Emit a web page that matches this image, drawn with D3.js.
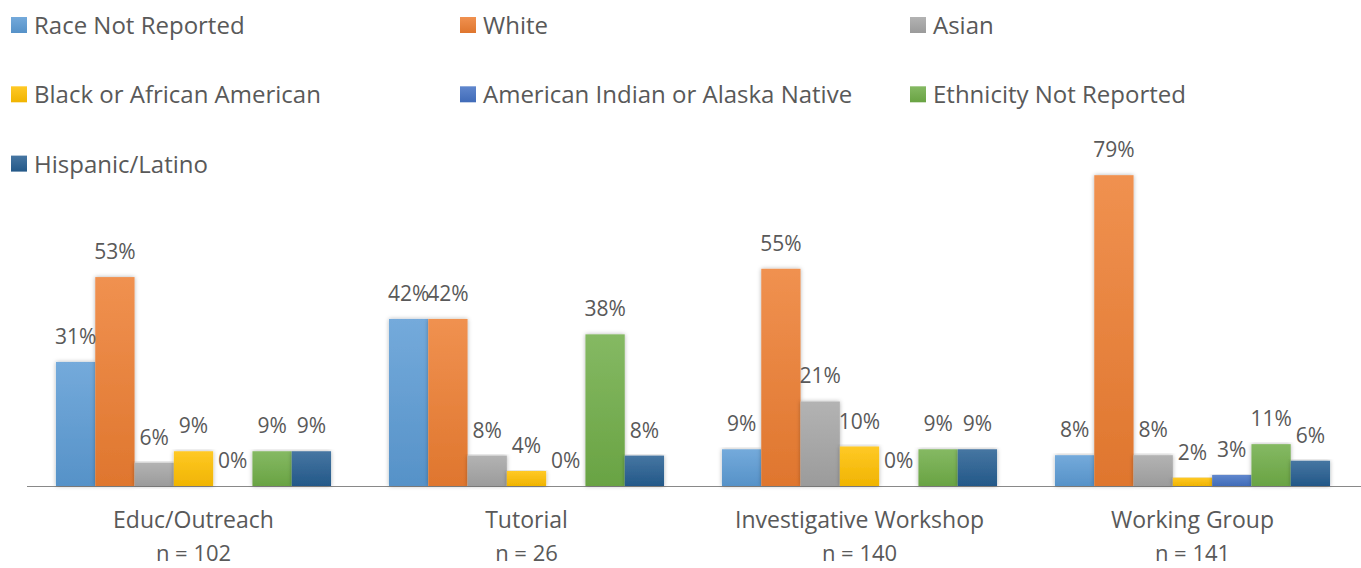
<!DOCTYPE html>
<html>
<head>
<meta charset="utf-8">
<script src="https://cdn.jsdelivr.net/npm/d3@7"></script>
<style>
  body { margin: 0; background: #fff; }
  text { font-family: "Open Sans", Lato, sans-serif; fill: #595959; }
</style>
</head>
<body>
<svg id="chart" width="1361" height="568"></svg>
<script>
// chart data
var categories = ['Educ/Outreach', 'Tutorial', 'Investigative Workshop', 'Working Group'];
var sampleSizes = ['n = 102', 'n = 26', 'n = 140', 'n = 141'];
var seriesNames = ['Race Not Reported', 'White', 'Asian', 'Black or African American',
  'American Indian or Alaska Native', 'Ethnicity Not Reported', 'Hispanic/Latino'];
var seriesColors = ['#5B9BD5', '#ED7D31', '#A5A5A5', '#FFC000', '#4472C4', '#70AD47', '#255E91'];

// percent values, one array per series (same order as categories)
var raceNotReported = [31.4, 42.3, 9.3, 7.8];
var white = [52.9, 42.3, 55.0, 78.7];
var asian = [5.9, 7.7, 21.4, 7.8];
var black = [8.8, 3.8, 10.0, 2.1];
var amIndian = [0, 0, 0, 2.8];
var ethnNotReported = [8.8, 38.4, 9.3, 10.6];
var hispanic = [8.8, 7.7, 9.3, 6.4];

var seriesValues = [raceNotReported, white, asian, black, amIndian, ethnNotReported, hispanic];

var svg = d3.select('#chart');
var baseY = 486;

var x0 = d3.scaleBand()
  .domain(categories)
  .range([27, 1359])
  .paddingInner(0.174)
  .paddingOuter(0.087);

var x1 = d3.scaleBand()
  .domain(d3.range(seriesNames.length))
  .range([0, x0.bandwidth()]);

var y = d3.scaleLinear()
  .domain([0, 79])
  .range([baseY, 174]);

// gradients (lighter at top)
var defs = svg.append('defs');
seriesColors.forEach(function(c, i) {
  var g = defs.append('linearGradient')
    .attr('id', 'grad' + i)
    .attr('x1', 0).attr('y1', 0).attr('x2', 0).attr('y2', 1);
  g.append('stop').attr('offset', '0%').attr('stop-color', d3.interpolateRgb(c, '#fff')(0.15));
  g.append('stop').attr('offset', '100%').attr('stop-color', d3.interpolateRgb(c, '#000')(0.06));
});

var shadow = defs.append('filter').attr('id', 'shadow')
  .attr('x', '-20%').attr('y', '-5%').attr('width', '140%').attr('height', '115%');
shadow.append('feDropShadow')
  .attr('dx', 0).attr('dy', 0).attr('stdDeviation', 2)
  .attr('flood-color', '#000').attr('flood-opacity', 0.3);

// flatten to one row per bar
var bars = [];
categories.forEach(function(cat, ci) {
  seriesValues.forEach(function(vals, si) {
    bars.push({cat: cat, series: si, value: vals[ci]});
  });
});

// baseline
svg.append('line')
  .attr('x1', 27).attr('x2', 1361)
  .attr('y1', baseY + 0.5).attr('y2', baseY + 0.5)
  .style('stroke', '#898989')
  .style('stroke-width', 1);

svg.append('g')
  .selectAll('rect')
  .data(bars.filter(function(d) { return d.value > 0; }))
  .enter()
  .append('rect')
  .attr('x', function(d) { return x0(d.cat) + x1(d.series); })
  .attr('width', x1.bandwidth())
  .attr('y', function(d) { return y(d.value); })
  .attr('height', function(d) { return baseY - y(d.value); })
  .style('fill', function(d) { return 'url(#grad' + d.series + ')'; })
  .attr('filter', 'url(#shadow)');

// value labels
svg.append('g')
  .selectAll('text')
  .data(bars)
  .enter()
  .append('text')
  .attr('x', function(d) { return x0(d.cat) + x1(d.series) + x1.bandwidth() / 2; })
  .attr('y', function(d) { return y(d.value) - 18; })
  .attr('text-anchor', 'middle')
  .style('font-size', '21px')
  .text(function(d) { return Math.round(d.value) + '%'; });

// category labels + sample sizes
svg.append('g')
  .selectAll('text')
  .data(categories)
  .enter()
  .append('text')
  .attr('x', function(d) { return x0(d) + x0.bandwidth() / 2; })
  .attr('y', 528)
  .attr('text-anchor', 'middle')
  .style('font-size', '23px')
  .text(function(d) { return d; });

svg.append('g')
  .selectAll('text')
  .data(sampleSizes)
  .enter()
  .append('text')
  .attr('x', function(d, i) { return x0(categories[i]) + x0.bandwidth() / 2; })
  .attr('y', 561)
  .attr('text-anchor', 'middle')
  .style('font-size', '22px')
  .text(function(d) { return d; });

// legend: 3 columns
var legendCols = [11, 460, 910];
var legend = svg.append('g')
  .selectAll('g')
  .data(seriesNames)
  .enter()
  .append('g')
  .attr('transform', function(d, i) {
    return 'translate(' + legendCols[i % 3] + ',' + (34 + Math.floor(i / 3) * 69.3) + ')';
  });

legend.append('rect')
  .attr('x', 0).attr('y', -17)
  .attr('width', 16).attr('height', 16)
  .style('fill', function(d, i) { return 'url(#grad' + i + ')'; });

legend.append('text')
  .attr('x', 23)
  .attr('y', 0)
  .style('font-size', '24px')
  .text(function(d) { return d; });
</script>
</body>
</html>
